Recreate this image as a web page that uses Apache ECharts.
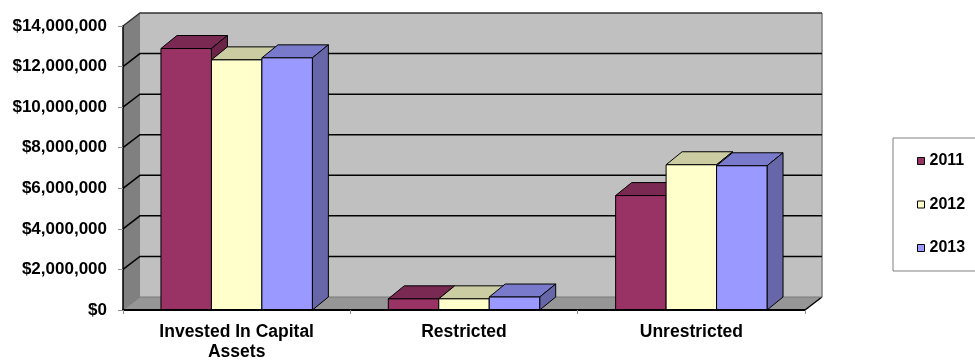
<!DOCTYPE html>
<html>
<head>
<meta charset="utf-8">
<script src="https://cdn.jsdelivr.net/npm/echarts@6/dist/echarts.min.js"></script>
<style>
  html, body { margin: 0; padding: 0; background: #fff; }
  #chart { width: 975px; height: 362px; }
</style>
</head>
<body>
<div id="chart"></div>
<script>
// data
const categories = ['Invested In Capital\nAssets', 'Restricted', 'Unrestricted'];
const years = ['2011', '2012', '2013'];
const values2011 = [12890000, 550000, 5640000];
const values2012 = [12330000, 550000, 7160000];
const values2013 = [12430000, 640000, 7110000];
const yTicks = [0, 2000000, 4000000, 6000000, 8000000, 10000000, 12000000, 14000000];

const FONT = '"Liberation Sans", Arial, sans-serif';
const frontColors = ['#993366', '#FFFFCC', '#9999FF'];
const topColors = ['#7A2952', '#CCCCA3', '#7A7ACC'];
const sideColors = ['#6B2447', '#B3B38F', '#6666A8'];
// depth offsets of the fake 3d
const DX = 16, DY = 13;
const WX = 17, WY = 13;

const chart = echarts.init(document.getElementById('chart'), null, { renderer: 'canvas' });

// back wall, side wall, floor and gridlines
function renderWalls(params, api) {
  const cs = params.coordSys;
  const L = cs.x, R = cs.x + cs.width, T = cs.y, B = cs.y + cs.height;
  const children = [
    { type: 'rect', shape: { x: L + WX, y: T - WY, width: R - L, height: B - T }, style: { fill: '#C0C0C0' } },
    { type: 'polygon', shape: { points: [[L, T], [L + WX, T - WY], [L + WX, B - WY], [L, B]] }, style: { fill: '#808080' } },
    { type: 'polygon', shape: { points: [[L, B], [L + WX, B - WY], [R + WX, B - WY], [R, B]] }, style: { fill: '#969696' } },
    { type: 'line', shape: { x1: R + WX, y1: T - WY, x2: R + WX, y2: B - WY }, style: { stroke: '#808080', lineWidth: 1.5 } },
    { type: 'line', shape: { x1: R, y1: B, x2: R + WX, y2: B - WY }, style: { stroke: '#000', lineWidth: 1.5 } }
  ];
  yTicks.forEach(function (v) {
    const y = api.coord([0, v])[1];
    if (v === 0) {
      children.push({ type: 'polyline', shape: { points: [[L, y], [L + WX, y - WY], [R + WX, y - WY]] }, style: { stroke: '#7a7a7a', lineWidth: 1, fill: null } });
    } else {
      children.push({ type: 'polyline', shape: { points: [[L, y], [L + WX, y - WY], [R + WX, y - WY]] }, style: { stroke: v === 14000000 ? '#333' : '#000', lineWidth: 1.5, fill: null } });
    }
  });
  return { type: 'group', children: children };
}

function makeBarRender(s) {
  return function (params, api) {
    const top = api.coord([api.value(0), api.value(1)]);
    const base = api.coord([api.value(0), 0]);
    const band = api.size([1, 0])[0];
    const w = band * (1 - 0.334) / 3;
    const x0 = top[0] - 1.5 * w + s * w;
    const x1 = x0 + w;
    const yt = top[1], yb = base[1];
    const st = { stroke: '#000', lineWidth: 1 };
    return {
      type: 'group',
      children: [
        { type: 'polygon', shape: { points: [[x0, yt], [x0 + DX, yt - DY], [x1 + DX, yt - DY], [x1, yt]] }, style: Object.assign({ fill: topColors[s] }, st) },
        { type: 'polygon', shape: { points: [[x1, yt], [x1 + DX, yt - DY], [x1 + DX, yb - DY], [x1, yb]] }, style: Object.assign({ fill: sideColors[s] }, st) },
        { type: 'rect', shape: { x: x0, y: yt, width: w, height: yb - yt }, style: Object.assign({ fill: frontColors[s] }, st) }
      ]
    };
  };
}

const seriesValues = [values2011, values2012, values2013];

const option = {
  animation: false,
  backgroundColor: '#ffffff',
  grid: { left: 123, right: 170, top: 26, bottom: 50 },
  legend: {
    orient: 'vertical',
    left: 893,
    top: 138,
    data: years,
    icon: 'rect',
    itemWidth: 7,
    itemHeight: 7,
    itemGap: 27.5,
    padding: [15, 20, 15, 24],
    borderColor: '#808080',
    borderWidth: 1,
    backgroundColor: '#fff',
    itemStyle: { borderColor: '#000', borderWidth: 1 },
    textStyle: { fontFamily: FONT, fontWeight: 'bold', fontSize: 16, color: '#000', lineHeight: 16 }
  },
  xAxis: {
    type: 'category',
    data: categories,
    z: 10,
    axisLine: { lineStyle: { color: '#000', width: 2 } },
    axisTick: { show: true, length: 4, lineStyle: { color: '#909090' } },
    axisLabel: { interval: 0, margin: 12, color: '#000', fontFamily: FONT, fontWeight: 'bold', fontSize: 17.5, lineHeight: 20 }
  },
  yAxis: {
    type: 'value',
    min: 0,
    max: 14000000,
    interval: 2000000,
    z: 10,
    axisLine: { show: true, lineStyle: { color: '#000', width: 1.5 } },
    axisTick: { show: true, length: 5, lineStyle: { color: '#909090' } },
    splitLine: { show: false },
    axisLabel: {
      margin: 16,
      color: '#000',
      fontFamily: FONT,
      fontWeight: 'bold',
      fontSize: 17,
      formatter: function (v) { return '$' + v.toLocaleString('en-US'); }
    }
  },
  series: [
    {
      type: 'custom',
      name: 'walls',
      silent: true,
      clip: false,
      z: 1,
      renderItem: renderWalls,
      data: [[0, 0]]
    }
  ].concat(years.map(function (y, s) {
    return {
      type: 'custom',
      name: y,
      clip: false,
      z: 2 + s,
      itemStyle: { color: frontColors[s] },
      renderItem: makeBarRender(s),
      encode: { x: 0, y: 1 },
      data: seriesValues[s].map(function (v, i) { return [i, v]; })
    };
  }))
};

chart.setOption(option);
</script>
</body>
</html>
